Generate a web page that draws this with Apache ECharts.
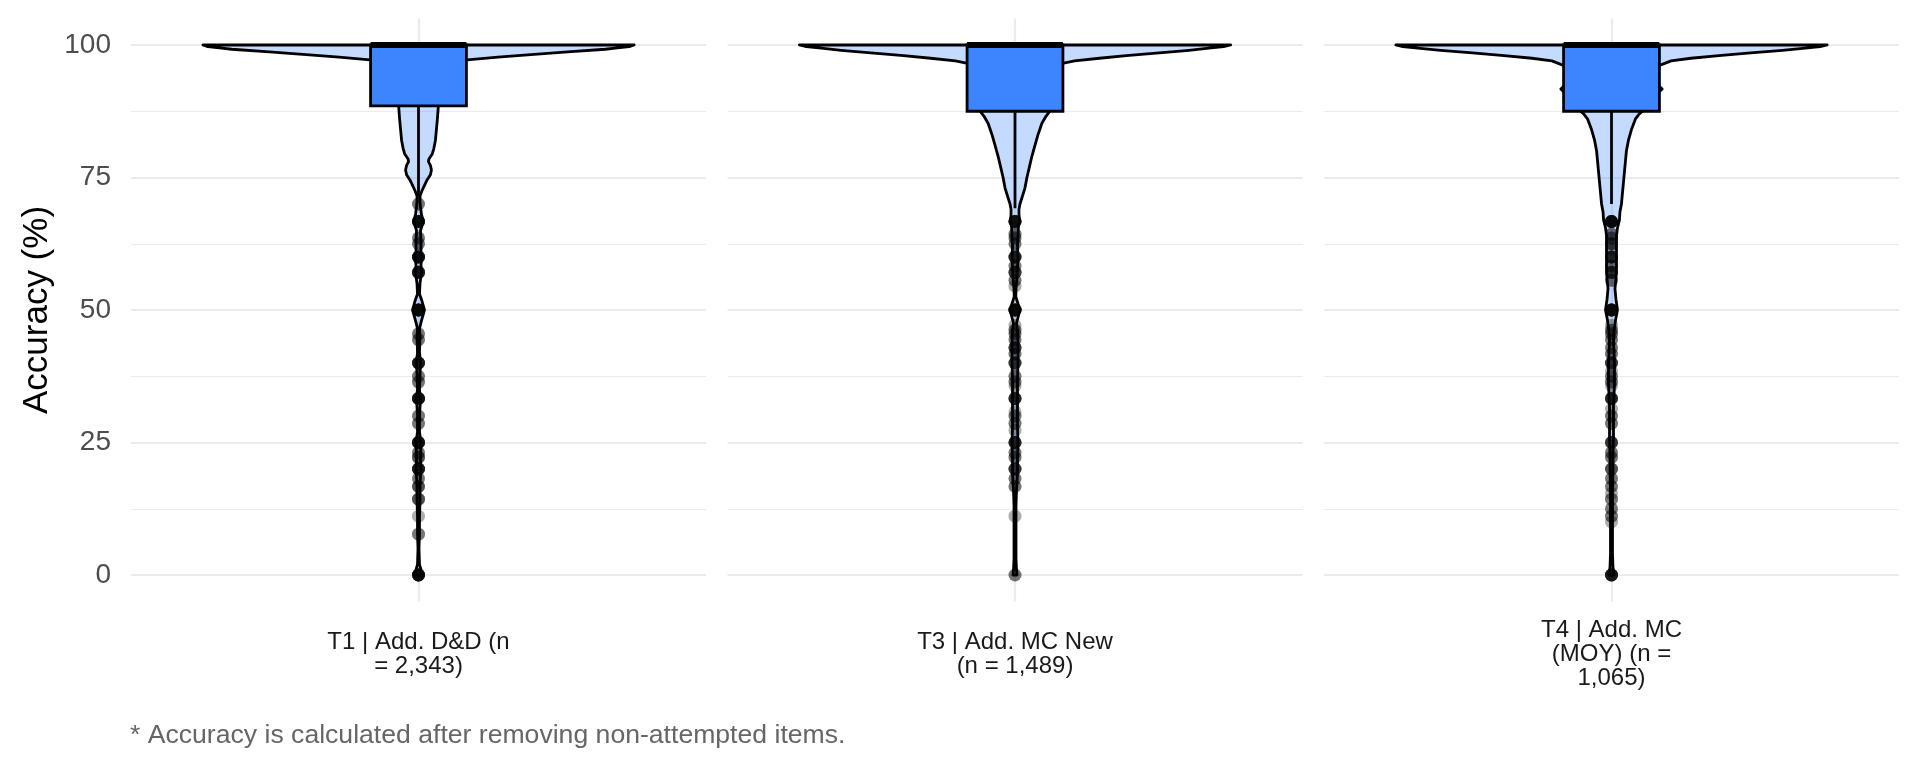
<!DOCTYPE html>
<html><head><meta charset="utf-8">
<script src="https://cdn.jsdelivr.net/npm/echarts@6/dist/echarts.min.js"></script>
<style>html,body{margin:0;padding:0;background:#fff}#c{width:1920px;height:768px}</style>
</head><body><div id="c"></div>
<script>
// ---------------- data ----------------
const categories = ['T1 | Add. D&D (n\n= 2,343)', 'T3 | Add. MC New\n(n = 1,489)', 'T4 | Add. MC\n(MOY) (n =\n1,065)'];
const yTicks = [0, 25, 50, 75, 100];
const yMinorTicks = [12.5, 37.5, 62.5, 87.5];
const boxQ1 = [88.5, 87.5, 87.5];
const boxMedian = [100, 100, 100];
const boxQ3 = [100, 100, 100];
const whiskerLow = [71.4, 69.2, 70];
const whiskerHigh = [100, 100, 100];

// violin outlines: accuracy values and relative density (max = widest point)
const violin1Y = [0,1,2,5,8,11,14,17,20,22,25,27,30,33.3,35,38,40,42,45,46.5,48,50,52,53,55,57,58.5,60,61,63,65,66.5,67,68,69.5,70.5,71.5,72.5,73.5,74.5,75.5,76.4,77.3,78,78.5,79.5,80.5,82,84,86,88.5,90,92,94,95.5,96.5,97.2,97.7,98.2,98.7,99.2,99.4,99.7,100];
const violin1D = [4,2.5,1,0.5,1,1,1.5,1.5,2.5,2,2.5,1,1,2,1,1.5,2,1,1.5,1,3,6,3,1,1.5,3,2.5,3.5,2.5,2.5,2,4.5,4.5,3,2,1.5,1.5,3.5,6,8.5,12,13,12,10,10.5,14,15.5,17,18,19,20,22,24,28,33,40,49,80,113,150,188,198,212,217];
const violin2Y = [0,1,3,6,10,13,16,19,22,25,28,31,34,37,40,42,44,46,47.5,50,52.5,54,56,58,60,62,64,66,67,68,69,70,71.5,73,75,77,79,81,83,85.2,86.5,87.5,89,91,93,95,96,96.6,97,97.5,98,98.5,99,99.4,99.7,100];
const violin2D = [2,1.5,1,1,1,1,1.5,2.5,2.5,3,2.5,2.5,2.5,2.5,3,3,3,2.5,1.5,5,0.8,1,2,2.5,3,2.5,3,3.5,4.5,4,4,5,7.5,10,12,14.5,17,20,23,27,31,35,36,37,39,42,45,49,60,85,112,145,175,195,210,217];
const violin3Y = [0,1.5,4,8,12,16,20,23,26,29,32,34,36,38,40,42,44,46,48,50,52,54,56,58,60,62,64,65.5,67,68.5,70,72,74,76,78,80,82,84,86,87,88,89,90,91,91.7,92.4,93.5,95,96.2,97,97.5,98,98.5,99,99.4,99.7,100];
const violin3D = [2.5,1.5,1,1,1,1,1.5,1.5,2,2,2,2.5,3,3,3,2.5,2,2.5,4,6,4.5,3.5,4.5,5,5,5,5,6,8,8.5,10,11,12,13,14,15,17,20,24,28,34,40,44,47,51,47,45,44,49,60,80,108,140,172,195,210,217];

// outliers below the lower whisker: value and how many overlap there
const outlier1Values = [0,7.7,11.1,14.3,16.7,18.2,20,22.2,23.1,25,28.6,30,33.3,36.4,37.5,40,44.4,45.5,50,57.1,60,62.5,63.6,66.7,70];
const outlier1Counts = [8,2,1,3,3,2,6,3,2,7,2,2,7,2,2,6,2,2,8,6,7,2,2,7,2];
const outlier2Values = [0,11.1,16.7,18.2,20,22.2,23.1,25,27.3,28.6,30,30.8,33.3,35.7,36.4,37.5,40,41.7,42.9,44.4,45.5,46.2,47.1,50,54.5,55.6,57.1,58.3,60,62.5,63.6,64.3,66.7];
const outlier2Counts = [2,1,2,2,4,2,2,5,1,2,2,1,5,1,2,2,4,2,4,2,2,2,1,8,1,2,4,2,5,2,2,2,7];
const outlier3Values = [0,10,11.1,12.5,14.3,15.4,16.7,18.2,20,22.2,23.1,25,28.6,30,31.3,33.3,35.7,36.4,37.5,38.5,40,41.7,42.9,44.4,45.5,46.2,47.1,50,55.6,57.1,58.3,60,61.5,62.5,63.6,64.3,66.7];
const outlier3Counts = [6,1,2,2,2,1,2,2,3,2,2,4,2,2,1,5,1,2,2,1,4,2,2,2,2,2,1,8,2,4,2,5,1,3,2,2,8];

// ---------------- helpers ----------------
const violinsY = [violin1Y, violin2Y, violin3Y];
const violinsD = [violin1D, violin2D, violin3D];
const outlierValues = [outlier1Values, outlier2Values, outlier3Values];
const outlierCounts = [outlier1Counts, outlier2Counts, outlier3Counts];

const FONT = '"Liberation Sans", Arial, Helvetica, sans-serif';
const gridLefts = [131, 727.5, 1324];
const GRID_W = 575, GRID_TOP = 18.5, GRID_H = 583;
const VIOLIN_FILL = 'rgba(61,133,255,0.3)';
const BOX_FILL = '#3D85FF';

function violinRender(ys, ds) {
  const dmax = Math.max.apply(null, ds);
  return function (params, api) {
    const band = api.size([1, 0])[0];
    const unit = band / 1.2;
    const maxHw = 0.45 * unit;
    const left = [], right = [];
    for (let k = 0; k < ys.length; k++) {
      const p = api.coord([0, ys[k]]);
      const hw = ds[k] / dmax * maxHw;
      left.push([p[0] - hw, p[1]]);
      right.push([p[0] + hw, p[1]]);
    }
    return {
      type: 'polygon',
      shape: { points: left.concat(right.reverse()) },
      style: { fill: VIOLIN_FILL, stroke: '#000', lineWidth: 2.8, lineJoin: 'round' }
    };
  };
}

function boxRender(i) {
  return function (params, api) {
    const band = api.size([1, 0])[0];
    const unit = band / 1.2;
    const hw = 0.1 * unit;
    const pQ1 = api.coord([0, boxQ1[i]]);
    const pQ3 = api.coord([0, boxQ3[i]]);
    const pMed = api.coord([0, boxMedian[i]]);
    const pLo = api.coord([0, whiskerLow[i]]);
    const pHi = api.coord([0, whiskerHigh[i]]);
    const cx = pQ1[0];
    return {
      type: 'group',
      children: [
        { type: 'line', shape: { x1: cx, y1: pQ1[1], x2: cx, y2: pLo[1] }, style: { stroke: '#000', lineWidth: 2.8 } },
        { type: 'line', shape: { x1: cx, y1: pQ3[1], x2: cx, y2: pHi[1] }, style: { stroke: '#000', lineWidth: 2.8 } },
        { type: 'rect', shape: { x: cx - hw, y: pQ3[1], width: 2 * hw, height: pQ1[1] - pQ3[1] }, style: { fill: BOX_FILL, stroke: '#000', lineWidth: 2.8 } },
        { type: 'line', shape: { x1: cx - hw, y1: pMed[1], x2: cx + hw, y2: pMed[1] }, style: { stroke: '#000', lineWidth: 6 } }
      ]
    };
  };
}

const grids = [], xAxes = [], yAxes = [], series = [];
for (let i = 0; i < 3; i++) {
  grids.push({ left: gridLefts[i], top: GRID_TOP, width: GRID_W, height: GRID_H, containLabel: false });
  xAxes.push({
    type: 'category', gridIndex: i, data: [categories[i]], boundaryGap: true,
    axisLine: { show: false }, axisTick: { show: false }, splitLine: { show: false },
    axisLabel: { show: true, interval: 0, fontFamily: FONT, fontSize: 24, color: '#1A1A1A', lineHeight: 24, margin: 53, verticalAlign: 'middle', align: 'center' }
  });
  yAxes.push({
    type: 'value', gridIndex: i, min: -5, max: 105, interval: 5,
    axisLine: { show: false }, axisTick: { show: false }, splitLine: { show: false },
    axisLabel: {
      show: i === 0, fontFamily: FONT, fontSize: 28, color: '#4D4D4D', margin: 20,
      formatter: function (v) { return yTicks.indexOf(v) >= 0 ? String(v) : ''; }
    },
    name: i === 0 ? 'Accuracy (%)' : '', nameLocation: 'middle', nameGap: 76, nameRotate: 90,
    nameTextStyle: { fontFamily: FONT, fontSize: 35, color: '#000' }
  });
  const gl = [];
  yTicks.forEach(v => gl.push({ yAxis: v, lineStyle: { color: '#EBEBEB', width: 2.2, type: 'solid' } }));
  yMinorTicks.forEach(v => gl.push({ yAxis: v, lineStyle: { color: '#EBEBEB', width: 1.2, type: 'solid' } }));
  gl.push({ xAxis: 0, lineStyle: { color: '#EBEBEB', width: 2.2, type: 'solid' } });
  series.push({
    type: 'line', xAxisIndex: i, yAxisIndex: i, data: [], z: 1, silent: true, showSymbol: false,
    markLine: { z: 1, zlevel: 0, silent: true, symbol: ['none', 'none'], label: { show: false }, animation: false, data: gl }
  });
  series.push({
    type: 'custom', xAxisIndex: i, yAxisIndex: i, z: 2, silent: true,
    renderItem: violinRender(violinsY[i], violinsD[i]), data: [[0, 50]]
  });
  series.push({
    type: 'custom', xAxisIndex: i, yAxisIndex: i, z: 3, silent: true,
    renderItem: boxRender(i), data: [[0, boxMedian[i]]]
  });
  const pts = [];
  outlierValues[i].forEach((v, k) => { for (let c = 0; c < outlierCounts[i][k]; c++) pts.push([0, v]); });
  series.push({
    type: 'scatter', xAxisIndex: i, yAxisIndex: i, z: 4, silent: true,
    symbol: 'circle', symbolSize: 13, data: pts,
    itemStyle: { color: 'rgba(0,0,0,0.4)' }
  });
}

const chart = echarts.init(document.getElementById('c'), null, { renderer: 'canvas' });
chart.setOption({
  backgroundColor: '#fff',
  animation: false,
  grid: grids, xAxis: xAxes, yAxis: yAxes, series: series,
  graphic: [{
    type: 'text', x: 130, y: 736, silent: true,
    style: { text: '* Accuracy is calculated after removing non-attempted items.', fontFamily: FONT, fontSize: 26.6, fill: '#666666', verticalAlign: 'middle', align: 'left' }
  }]
});
</script></body></html>
